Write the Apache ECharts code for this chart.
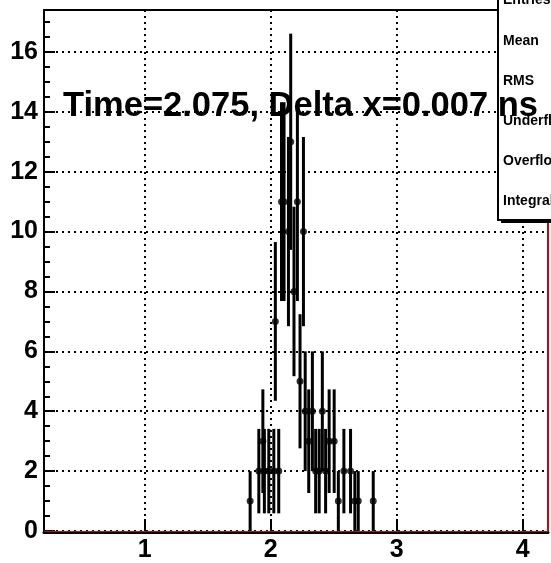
<!DOCTYPE html>
<html>
<head>
<meta charset="utf-8">
<style>
  html, body { margin: 0; padding: 0; background: #fff; }
  #chart { width: 551px; height: 563px; }
</style>
<script src="https://cdn.jsdelivr.net/npm/echarts@6.0.0/dist/echarts.min.js"></script>
</head>
<body>
<div id="chart"></div>
<script>
// bin centres (ns), entries per bin and their error bars
var binCenters = [1.836, 1.905, 1.937, 1.949, 1.984, 2.024, 2.036, 2.063, 2.085, 2.105,
  2.140, 2.158, 2.184, 2.211, 2.232, 2.259, 2.273, 2.301, 2.330, 2.356,
  2.384, 2.409, 2.435, 2.463, 2.503, 2.536, 2.580, 2.633, 2.667, 2.694, 2.813];
var counts = [1, 2, 3, 2, 2, 2, 7, 2, 11, 11,
  10, 13, 8, 11, 5, 10, 4, 3, 4, 2,
  2, 4, 2, 3, 3, 1, 2, 2, 1, 1, 1];
var errors = [1, 1.41, 1.73, 1.41, 1.41, 1.41, 2.65, 1.41, 3.32, 3.32,
  3.16, 3.61, 2.83, 3.32, 2.24, 3.16, 2, 1.73, 2, 1.41,
  1.41, 2, 1.41, 1.73, 1.73, 1, 1.41, 1.41, 1, 1, 1];

var statLabels = ["Entries", "Mean", "RMS", "Underflow", "Overflow", "Integral"];
var titleText = "Time=2.075, Delta x=0.007 ns";

var font = "'Liberation Sans', Arial, sans-serif";
var chart = echarts.init(document.getElementById("chart"));

var points = binCenters.map(function (x, i) {
  return [x, counts[i], errors[i]];
});

var dotted = { color: "#000", width: 2, type: [2, 4] };
var labelStyle = { color: "#000", fontSize: 25, fontWeight: "bold", fontFamily: font };

// stats box (cut off by the right edge like in the original)
var statsBox = [
  { type: "rect", shape: { x: 501, y: -5, width: 80, height: 228 }, style: { fill: "#000" }, z: 10 },
  { type: "rect", shape: { x: 498, y: -5, width: 80, height: 225 }, style: { fill: "#fff", stroke: "#000", lineWidth: 2 }, z: 11 }
];
statLabels.forEach(function (s, i) {
  statsBox.push({
    type: "text", z: 12,
    style: { text: s, x: 503, y: 7.5 + i * 40.2, textVerticalAlign: "bottom", font: "bold 14px " + font, fill: "#000" }
  });
});

var option = {
  animation: false,
  grid: { left: 44, right: 3, top: 10, bottom: 30 },
  xAxis: [
    {
      type: "value", min: 0.2, max: 4.2, splitNumber: 4, offset: 1,
      axisLine: { show: true, onZero: false, lineStyle: { color: "#000", width: 3 } },
      axisTick: { show: true, inside: true, length: 13, lineStyle: { color: "#000", width: 2 } },
      axisLabel: Object.assign({ showMinLabel: false, showMaxLabel: false, margin: 6 }, labelStyle),
      splitLine: { show: true, lineStyle: dotted }
    },
    {
      type: "value", position: "top", min: 0.2, max: 4.2,
      axisLine: { show: true, onZero: false, lineStyle: { color: "#000", width: 2 } },
      axisTick: { show: false }, axisLabel: { show: false }, splitLine: { show: false }
    }
  ],
  yAxis: [
    {
      type: "value", min: 0, max: 17.4, interval: 2,
      axisLine: { show: true, onZero: false, lineStyle: { color: "#000", width: 2 } },
      axisTick: { show: true, inside: true, length: 11, lineStyle: { color: "#000", width: 2 } },
      minorTick: { show: true, splitNumber: 4, length: 6, lineStyle: { color: "#000", width: 2 } },
      axisLabel: Object.assign({ showMaxLabel: false, margin: 6 }, labelStyle),
      splitLine: { show: true, lineStyle: dotted }
    },
    {
      type: "value", position: "right", min: 0, max: 17.4,
      axisLine: { show: true, onZero: false, lineStyle: { color: "#d00", width: 2 } },
      axisTick: { show: false }, axisLabel: { show: false }, splitLine: { show: false }
    }
  ],
  graphic: [
    {
      type: "text", left: 63, top: 89, z: 20,
      style: { text: titleText, font: "bold 34.5px " + font, fill: "#000" }
    }
  ].concat(statsBox),
  series: [
    {
      type: "custom",
      data: points,
      encode: { x: 0, y: 1 },
      renderItem: function (params, api) {
        var x = api.value(0);
        var y = api.value(1);
        var e = api.value(2);
        var hi = api.coord([x, y + e]);
        var lo = api.coord([x, y - e]);
        return {
          type: "line",
          shape: { x1: hi[0], y1: hi[1], x2: lo[0], y2: lo[1] },
          style: { stroke: "#000", lineWidth: 3 }
        };
      },
      z: 3
    },
    {
      type: "scatter",
      data: points,
      symbol: "circle",
      symbolSize: 7,
      itemStyle: { color: "#000" },
      z: 4,
      markLine: {
        silent: true, symbol: "none", label: { show: false },
        lineStyle: { color: "#d00", width: 1, type: "solid" },
        data: [{ yAxis: 0 }]
      }
    }
  ]
};

chart.setOption(option);
</script>
</body>
</html>
